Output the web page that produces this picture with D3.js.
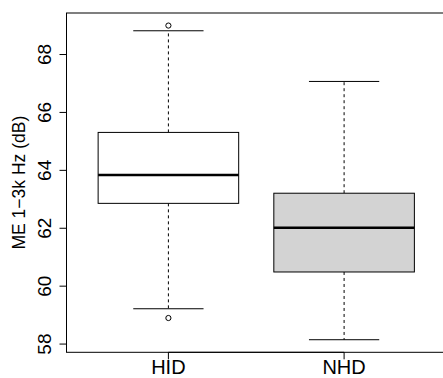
<!DOCTYPE html>
<html><head><meta charset="utf-8">
<script src="https://cdn.jsdelivr.net/npm/d3@7"></script>
<style>body{margin:0;background:#fff}svg{display:block}</style>
</head><body>
<svg id="c" width="443" height="378"></svg>
<script>
const categories = ["HID", "NHD"];
const fills = ["#ffffff", "#d3d3d3"];
const lowerWhisker = [59.22, 58.15];
const q1 = [62.86, 60.49];
const median = [63.84, 62.02];
const q3 = [65.31, 63.21];
const upperWhisker = [68.82, 67.07];
const outliers = [[69.0, 58.90], []];
const yTicks = [58, 60, 62, 64, 66, 68];
const yLabel = "ME 1\u22123k Hz (dB)";

const svg = d3.select("#c");
const L = 66.5, R = 446, T = 13, B = 352.3;
const font = "'Liberation Sans', Arial, Helvetica, sans-serif";

const y = d3.scaleLinear().domain([57.716, 69.434]).range([B, T]);
const x = d3.scaleLinear().domain([0.42, 2.58]).range([L, R]);

// plot frame
svg.append("rect").attr("x", L).attr("y", T).attr("width", R - L).attr("height", B - T)
  .attr("fill", "none").attr("stroke", "#000").attr("stroke-width", 1);

const data = categories.map((c, i) => ({
  c, i: i + 1, lw: lowerWhisker[i], q1: q1[i], med: median[i], q3: q3[i], uw: upperWhisker[i], out: outliers[i], fill: fills[i]
}));

const bw = x(1.4) - x(1);
const cw = bw / 2;
const g = svg.append("g");
data.forEach(d => {
  const cx = x(d.i);
  g.append("line").attr("x1", cx).attr("x2", cx).attr("y1", y(d.q3)).attr("y2", y(d.uw))
    .attr("stroke", "#000").attr("stroke-dasharray", "3,3");
  g.append("line").attr("x1", cx).attr("x2", cx).attr("y1", y(d.q1)).attr("y2", y(d.lw))
    .attr("stroke", "#000").attr("stroke-dasharray", "3,3");
  [d.uw, d.lw].forEach(v => g.append("line").attr("x1", cx - cw).attr("x2", cx + cw)
    .attr("y1", y(v)).attr("y2", y(v)).attr("stroke", "#000"));
  g.append("rect").attr("x", cx - bw).attr("y", y(d.q3)).attr("width", 2 * bw)
    .attr("height", y(d.q1) - y(d.q3)).attr("fill", d.fill).attr("stroke", "#000");
  g.append("line").attr("x1", cx - bw).attr("x2", cx + bw).attr("y1", y(d.med)).attr("y2", y(d.med))
    .attr("stroke", "#000").attr("stroke-width", 2.6);
  d.out.forEach(v => g.append("circle").attr("cx", cx).attr("cy", y(v)).attr("r", 2.6)
    .attr("fill", "none").attr("stroke", "#000").attr("stroke-width", 1));
});

// y axis
const ya = svg.append("g").attr("transform", `translate(${L},0)`);
ya.append("line").attr("x1", 0).attr("x2", 0).attr("y1", y(58)).attr("y2", y(68)).attr("stroke", "#000");
yTicks.forEach(t => {
  ya.append("line").attr("x1", -7).attr("x2", 0).attr("y1", y(t)).attr("y2", y(t)).attr("stroke", "#000");
  ya.append("text").attr("transform", `translate(-16,${y(t)}) rotate(-90)`)
    .attr("text-anchor", "middle").attr("font-family", font).attr("font-size", 19).text(t);
});

// x axis
const xa = svg.append("g").attr("transform", `translate(0,${B})`);
xa.append("line").attr("x1", x(1)).attr("x2", x(2)).attr("y1", 0).attr("y2", 0).attr("stroke", "#000");
categories.forEach((c, i) => {
  xa.append("line").attr("x1", x(i + 1)).attr("x2", x(i + 1)).attr("y1", 0).attr("y2", 7).attr("stroke", "#000");
  xa.append("text").attr("x", x(i + 1)).attr("y", 21.5).attr("text-anchor", "middle")
    .attr("font-family", font).attr("font-size", 20).text(c);
});

// y title
svg.append("text").attr("transform", `translate(24.5,${(T + B) / 2}) rotate(-90)`)
  .attr("text-anchor", "middle").attr("font-family", font).attr("font-size", 17.5).text(yLabel);
</script>
</body></html>
